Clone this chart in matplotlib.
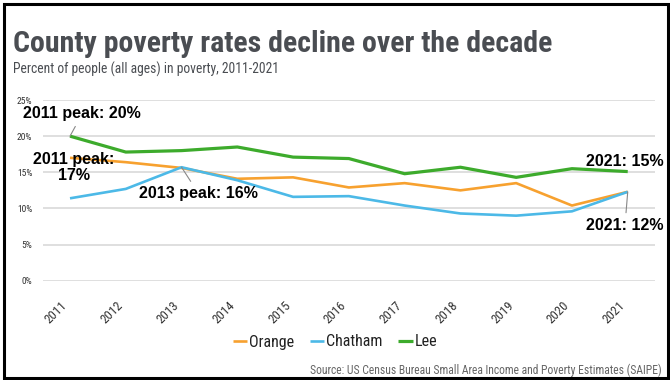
import matplotlib
matplotlib.use("Agg")
import matplotlib.pyplot as plt
from matplotlib.patches import Rectangle
from matplotlib import font_manager

years = ["2011", "2012", "2013", "2014", "2015", "2016", "2017", "2018", "2019", "2020", "2021"]
orange = [17.0, 16.4, 15.6, 14.1, 14.3, 12.9, 13.5, 12.5, 13.5, 10.4, 12.3]
chatham = [11.4, 12.7, 15.7, 13.9, 11.6, 11.7, 10.4, 9.3, 9.0, 9.6, 12.3]
lee = [20.0, 17.8, 18.0, 18.5, 17.1, 16.9, 14.8, 15.7, 14.3, 15.5, 15.1]
yticks = [0, 5, 10, 15, 20, 25]

names = {f.name for f in font_manager.fontManager.ttflist}
narrow = [f for f in ["Liberation Sans Narrow", "Roboto Condensed", "DejaVu Sans"] if f in names] or ["DejaVu Sans"]
NARROW = narrow[0]
BOLD = "Liberation Sans"

C_OR = "#F7A12F"
C_CH = "#4CB9E7"
C_LE = "#3DAB2C"

fig = plt.figure(figsize=(6.7, 3.8), dpi=100)
ax = fig.add_axes([0.0637, 0.2613, 0.914, 0.4755])

x = list(range(len(years)))
ax.plot(x, orange, color=C_OR, lw=1.9, label="Orange", solid_capstyle="butt")
ax.plot(x, chatham, color=C_CH, lw=1.9, label="Chatham", solid_capstyle="butt")
ax.plot(x, lee, color=C_LE, lw=2.3, label="Lee", solid_capstyle="butt")

ax.set_xlim(-0.49, len(years) - 1 + 0.49)
ax.set_ylim(0, 25)
ax.set_yticks(yticks)
ax.set_yticklabels([f"{v}%" for v in yticks], fontsize=6.8, family=NARROW, color="#333333")
ax.set_xticks(x)
ax.set_xticklabels(years, rotation=45, fontsize=9.3, family=NARROW, color="#333333",
                   ha="right", va="top")
ax.tick_params(axis="both", length=0)
ax.tick_params(axis="x", pad=13)
ax.tick_params(axis="y", pad=7.5)
ax.grid(axis="y", color="#d9d9d9", lw=1.2)
ax.set_axisbelow(True)
for s in ax.spines.values():
    s.set_visible(False)

# annotations
akw = dict(fontsize=11.5, fontweight="bold", family=BOLD, color="black")
lkw = dict(arrowstyle="-", color="#888888", lw=0.8, shrinkA=2, shrinkB=0)
ax.annotate("2011 peak: 20%", xy=(0, 20.0), xytext=(0.22, 23.1), ha="center", va="center",
            arrowprops=lkw, **akw)
ax.text(0.07, 15.7, "2011 peak:\n17%", ha="center", va="center", linespacing=1.05, **akw)
ax.annotate("2013 peak: 16%", xy=(2, 15.7), xytext=(2.31, 12.0), ha="center", va="center",
            arrowprops=lkw, **akw)
ax.text(9.95, 16.5, "2021: 15%", ha="center", va="center", **akw)
ax.annotate("2021: 12%", xy=(10, 12.3), xytext=(9.95, 7.6), ha="center", va="center",
            arrowprops=lkw, **akw)

# titles
fig.text(0.02, 0.885, "County poverty rates decline over the decade", fontsize=21.5,
         fontweight="bold", family=NARROW, color="#4a4d52", ha="left", va="center")
fig.text(0.02, 0.818, "Percent of people (all ages) in poverty, 2011-2021", fontsize=9.8,
         family=NARROW, color="#4a4d52", ha="left", va="center")

leg = fig.legend(loc="center", bbox_to_anchor=(0.5, 0.1), ncol=3, frameon=False,
                 prop={"family": NARROW, "size": 11.5}, handlelength=0.9, handletextpad=0.1,
                 columnspacing=1.0)
for t in leg.get_texts():
    t.set_color("#222222")

fig.text(0.988, 0.026, "Source: US Census Bureau Small Area Income and Poverty Estimates (SAIPE)",
         fontsize=8.4, family=NARROW, color="#666666", ha="right", va="center")

fig.patches.append(Rectangle((0.006, 0.005), 0.991, 0.985, transform=fig.transFigure,
                             fill=False, edgecolor="black", lw=2.2))

fig.savefig("out.png", dpi=100)
